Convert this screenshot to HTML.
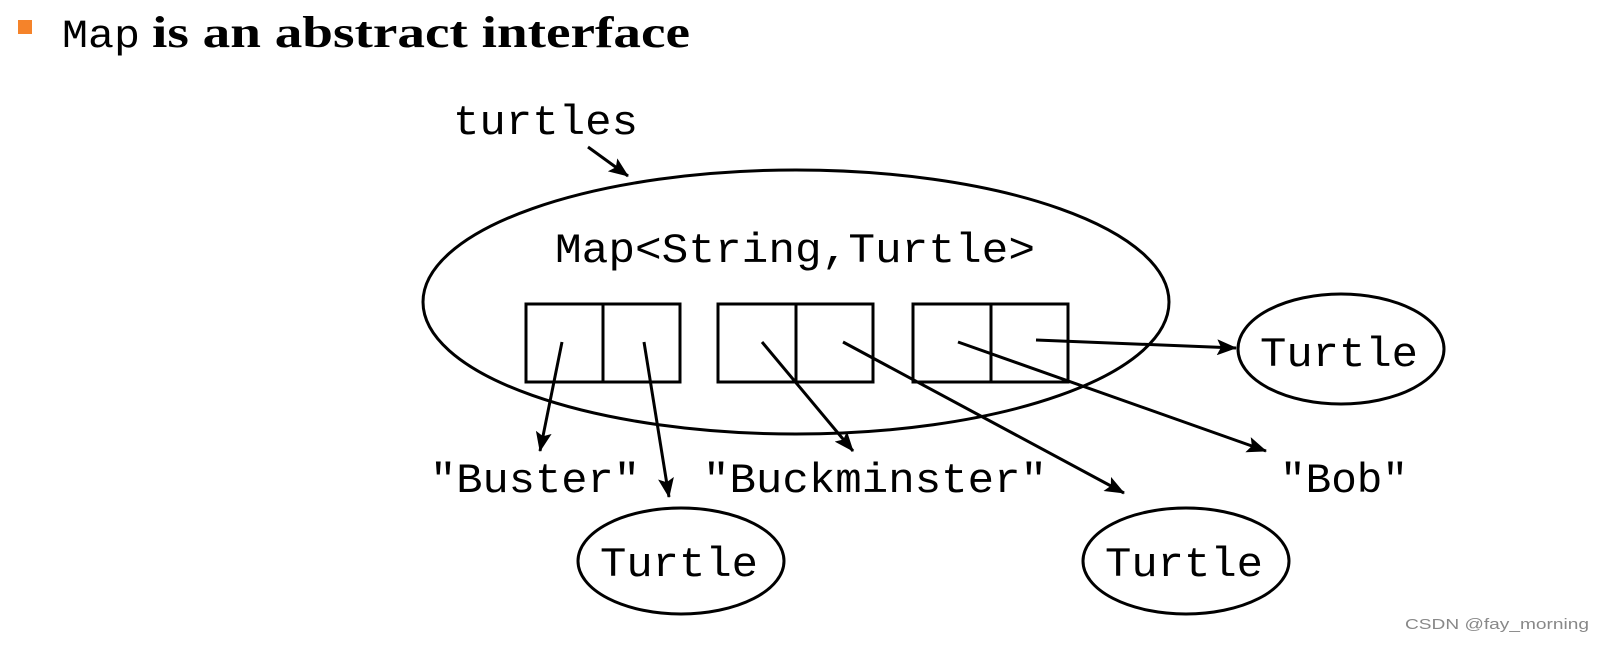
<!DOCTYPE html>
<html><head><meta charset="utf-8"><style>
html,body{margin:0;padding:0;background:#fff;}
body{width:1603px;height:655px;overflow:hidden;position:relative;}
</style></head><body>
<svg width="1603" height="655" viewBox="0 0 1603 655" xmlns="http://www.w3.org/2000/svg" style="position:absolute;left:0;top:0">
<defs>
<marker id="a" viewBox="0 0 12 10" refX="11" refY="5" markerWidth="12" markerHeight="10" markerUnits="userSpaceOnUse" orient="auto">
<path d="M0,0 L12,5 L0,10 L3,5 Z" fill="#000"/>
</marker>
<marker id="b" viewBox="0 0 20 16" refX="19" refY="8" markerWidth="20" markerHeight="16" markerUnits="userSpaceOnUse" orient="auto">
<path d="M0,0 L20,8 L0,16 L4,8 Z" fill="#000"/>
</marker>
</defs>
<rect x="18" y="20" width="14" height="14" fill="#f5832a"/>
<text x="62" y="47" font-family="Liberation Mono, monospace" font-size="40" fill="#000" textLength="78" lengthAdjust="spacingAndGlyphs">Map</text>
<text x="152" y="47" font-family="Liberation Serif, serif" font-weight="bold" font-size="44" fill="#000" textLength="538" lengthAdjust="spacingAndGlyphs">is an abstract interface</text>

<g fill="none" stroke="#000" stroke-width="3">
<ellipse cx="796" cy="302" rx="373" ry="132"/>
<ellipse cx="1341" cy="349" rx="103" ry="55"/>
<ellipse cx="681" cy="561" rx="103" ry="53"/>
<ellipse cx="1186" cy="561" rx="103" ry="53"/>
<rect x="526" y="304" width="154" height="78"/><line x1="603" y1="304" x2="603" y2="382"/>
<rect x="718" y="304" width="155" height="78"/><line x1="796" y1="304" x2="796" y2="382"/>
<rect x="913" y="304" width="155" height="78"/><line x1="991" y1="304" x2="991" y2="382"/>
<line x1="588" y1="147" x2="628" y2="176" marker-end="url(#b)"/>
<line x1="562" y1="342" x2="540" y2="451" marker-end="url(#b)"/>
<line x1="644" y1="342" x2="669" y2="497" marker-end="url(#b)"/>
<line x1="762" y1="342" x2="853" y2="451" marker-end="url(#b)"/>
<line x1="843" y1="342" x2="1124" y2="493" marker-end="url(#b)"/>
<line x1="958" y1="342" x2="1266" y2="451" marker-end="url(#b)"/>
<line x1="1036" y1="340" x2="1236" y2="348" marker-end="url(#b)"/>
</g>
<g font-family="Liberation Mono, monospace" font-size="42" fill="#000">
<text x="453" y="134" textLength="185" lengthAdjust="spacingAndGlyphs">turtles</text>
<text x="555" y="262" textLength="480" lengthAdjust="spacingAndGlyphs">Map&lt;String,Turtle&gt;</text>
<text x="1260" y="366" textLength="158" lengthAdjust="spacingAndGlyphs">Turtle</text>
<text x="600" y="576" textLength="158" lengthAdjust="spacingAndGlyphs">Turtle</text>
<text x="1105" y="576" textLength="158" lengthAdjust="spacingAndGlyphs">Turtle</text>
<text x="430" y="492" textLength="210" lengthAdjust="spacingAndGlyphs">"Buster"</text>
<text x="703" y="492" textLength="344" lengthAdjust="spacingAndGlyphs">"Buckminster"</text>
<text x="1280" y="492" textLength="128" lengthAdjust="spacingAndGlyphs">"Bob"</text>
</g>
<text x="1405" y="629" font-family="Liberation Sans, sans-serif" font-size="15" fill="#888" textLength="184" lengthAdjust="spacingAndGlyphs">CSDN @fay_morning</text>
</svg>
</body></html>
